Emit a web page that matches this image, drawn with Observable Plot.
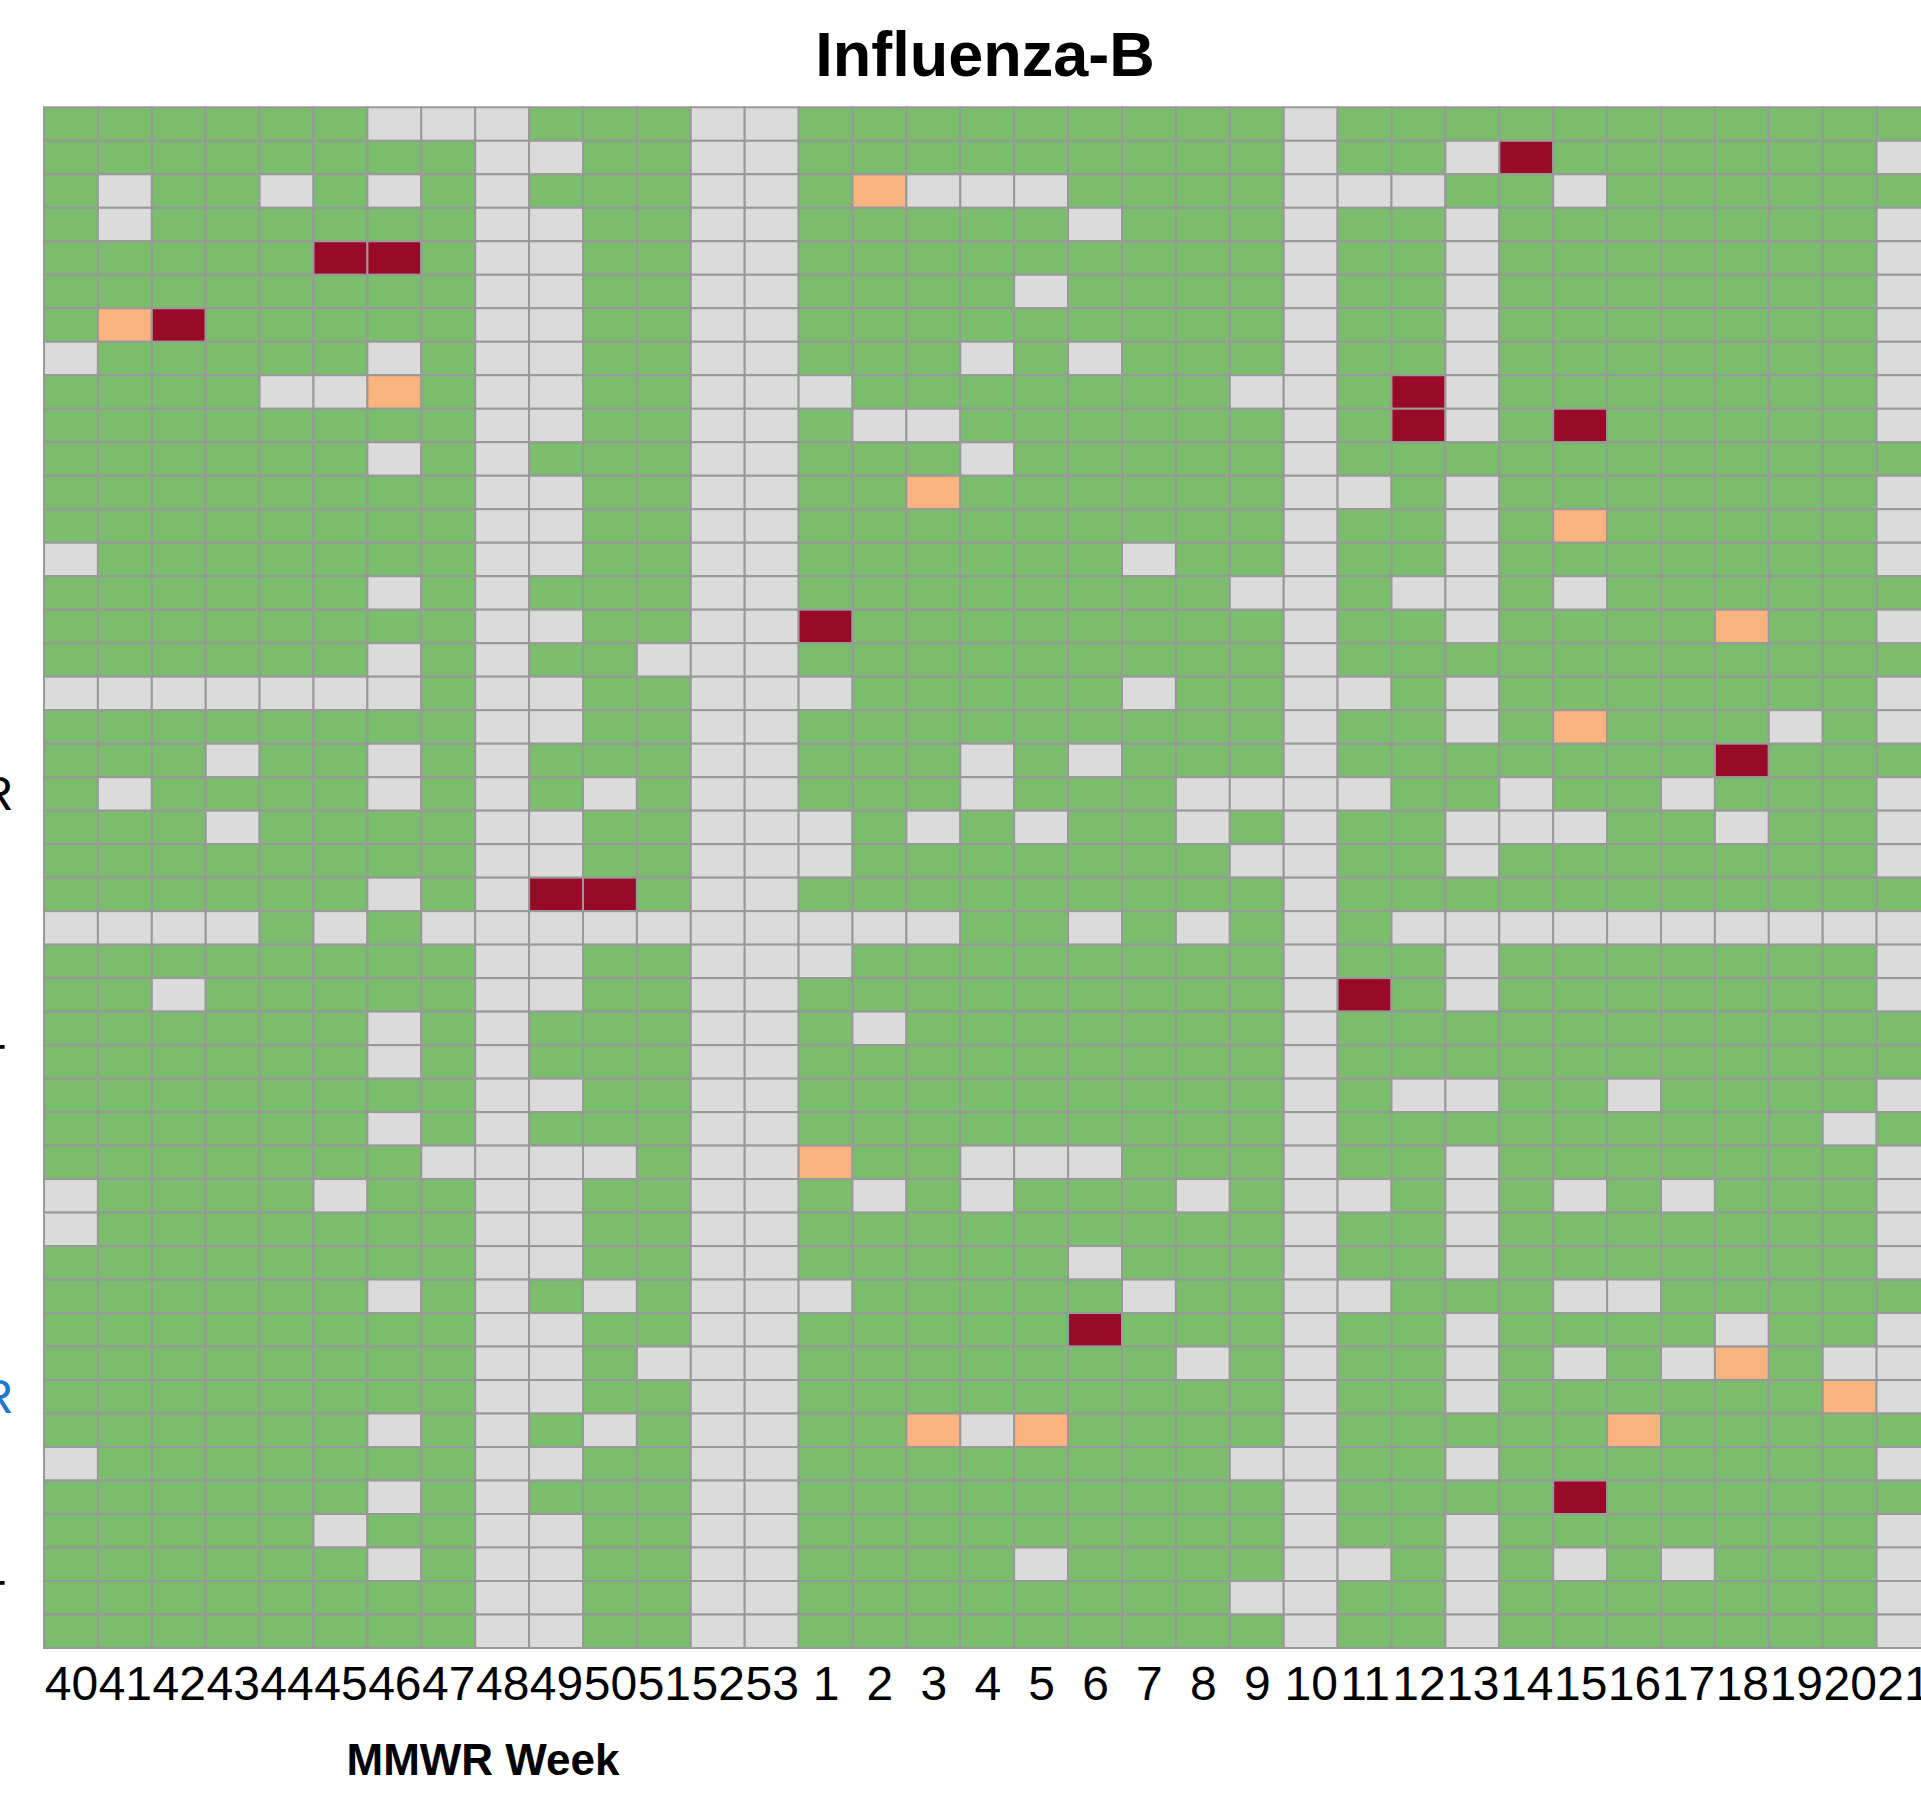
<!DOCTYPE html>
<html><head><meta charset="utf-8">
<script src="https://cdn.jsdelivr.net/npm/d3@7"></script>
<script src="https://cdn.jsdelivr.net/npm/@observablehq/plot@0.6"></script>
<style>
html,body{margin:0;padding:0;background:#fff;overflow:hidden;}
#wrap{position:relative;width:1921px;height:1801px;overflow:hidden;background:#fff;}
#chart{position:absolute;left:0;top:0;}
.lbl{position:absolute;left:0;text-align:center;font-family:"Liberation Sans",Arial,sans-serif;font-weight:bold;color:#000;white-space:nowrap;}
#title{width:1970px;top:23px;font-size:63px;line-height:63px;}
#xlab{width:966px;top:1738px;font-size:44px;line-height:44px;}
</style>
</head><body>
<div id="wrap">
  <div id="chart"></div>
  <div id="title" class="lbl">Influenza-B</div>
  <div id="xlab" class="lbl">MMWR Week</div>
</div>
<script>
// MMWR weeks (columns)
const weeks = ["40","41","42","43","44","45","46","47","48","49","50","51","52","53",
  "1","2","3","4","5","6","7","8","9","10","11","12","13","14","15","16","17","18","19","20","21"];

// Activity status per row (one char per week): g = minimal, n = no report, o = moderate, r = high
const rowStatus = [
  "ggggggnnngggnn"+"gggggggggnggggggggggg",
  "ggggggggnnggnn"+"gggggggggnggnrggggggn",
  "gnggngngngggnn"+"gonnnggggnnnggngggggg",
  "gnggggggnnggnn"+"gggggngggnggngggggggn",
  "gggggrrgnnggnn"+"gggggggggnggngggggggn",
  "ggggggggnnggnn"+"ggggnggggnggngggggggn",
  "gorgggggnnggnn"+"gggggggggnggngggggggn",
  "ngggggngnnggnn"+"gggngngggnggngggggggn",
  "ggggnnognnggnn"+"ngggggggnngrngggggggn",
  "ggggggggnnggnn"+"gnnggggggngrngrgggggn",
  "ggggggngngggnn"+"gggngggggnggggggggggg",
  "ggggggggnnggnn"+"ggoggggggnngngggggggn",
  "ggggggggnnggnn"+"gggggggggnggngogggggn",
  "ngggggggnnggnn"+"ggggggnggnggngggggggn",
  "ggggggngngggnn"+"ggggggggnngnngngggggg",
  "ggggggggnnggnn"+"rggggggggnggnggggoggn",
  "ggggggngnggnnn"+"gggggggggnggggggggggg",
  "nnnnnnngnnggnn"+"ngggggnggnngngggggggn",
  "ggggggggnnggnn"+"gggggggggnggngogggngn",
  "gggnggngngggnn"+"gggngngggngggggggrggg",
  "gnggggngngngnn"+"gggngggnnnnggnggngggn",
  "gggnggggnnggnn"+"ngngnggngnggnnnggnggn",
  "ggggggggnnggnn"+"ngggggggnnggngggggggn",
  "ggggggngnrrgnn"+"gggggggggnggggggggggg",
  "nnnngngnnnnnnn"+"nnnggngngngnnnnnnnnnn",
  "ggggggggnnggnn"+"nggggggggnggngggggggn",
  "ggngggggnnggnn"+"gggggggggnrgngggggggn",
  "ggggggngngggnn"+"gngggggggnggggggggggg",
  "ggggggngngggnn"+"gggggggggnggggggggggg",
  "ggggggggnnggnn"+"gggggggggngnnggnggggn",
  "ggggggngngggnn"+"gggggggggngggggggggng",
  "gggggggnnnngnn"+"oggnnngggnggngggggggn",
  "nggggnggnnggnn"+"gngngggngnngngngngggn",
  "ngggggggnnggnn"+"gggggggggnggngggggggn",
  "ggggggggnnggnn"+"gggggngggnggngggggggn",
  "ggggggngngngnn"+"ngggggnggnngggnnggggg",
  "ggggggggnnggnn"+"gggggrgggnggnggggnggn",
  "ggggggggnngnnn"+"gggggggngnggngngnognn",
  "ggggggggnnggnn"+"gggggggggnggnggggggon",
  "ggggggngngngnn"+"ggonoggggngggggoggggg",
  "ngggggggnnggnn"+"ggggggggnnggngggggggn",
  "ggggggngngggnn"+"gggggggggnggggrgggggg",
  "gggggnggnnggnn"+"gggggggggnggngggggggn",
  "ggggggngnnggnn"+"ggggnggggnngngngngggn",
  "ggggggggnnggnn"+"ggggggggnnggngggggggn",
  "ggggggggnnggnn"+"gggggggggnggngggggggn"
];

// Visible ends of the (cropped) row labels
const labelEndsR = [
  {row: 20, text: "R", color: "#000000"},
  {row: 38, text: "R", color: "#1f77d0"}
];
const labelEndsT = [
  {row: 28, text: "T", color: "#000000"},
  {row: 44, text: "T", color: "#000000"}
];

const statusKeys = ["g", "n", "o", "r"];
const statusColors = ["#79bd6d", "#dbdbdb", "#f9b37e", "#990a29"];

const cells = rowStatus.flatMap((s, i) =>
  [...s.slice(0, weeks.length)].map((c, j) => ({week: weeks[j], row: i, status: c})));

const chart = Plot.plot({
  width: 1921,
  height: 1801,
  marginTop: 107,
  marginBottom: 153,
  marginLeft: 44,
  marginRight: 0,
  style: {fontFamily: "'Liberation Sans', Arial, sans-serif", fontSize: "48px", background: "white", overflow: "hidden", color: "#000"},
  x: {domain: weeks, padding: 0, round: false, range: [44, 1930.5], tickSize: 0, tickPadding: 17, label: null},
  y: {domain: d3.range(rowStatus.length), padding: 0, round: false, range: [107.3, 1648], axis: null},
  color: {domain: statusKeys, range: statusColors},
  marks: [
    Plot.cell(cells, {x: "week", y: "row", fill: "status", stroke: "#999999", strokeWidth: 2, inset: 0}),
    Plot.text(labelEndsR, {y: "row", text: "text", fill: "color", frameAnchor: "left", dx: -31, textAnchor: "end", fontSize: 48}),
    Plot.text(labelEndsT, {y: "row", text: "text", fill: "color", frameAnchor: "left", dx: -39, textAnchor: "end", fontSize: 48})
  ]
});
document.getElementById("chart").appendChild(chart);
</script>
</body></html>
